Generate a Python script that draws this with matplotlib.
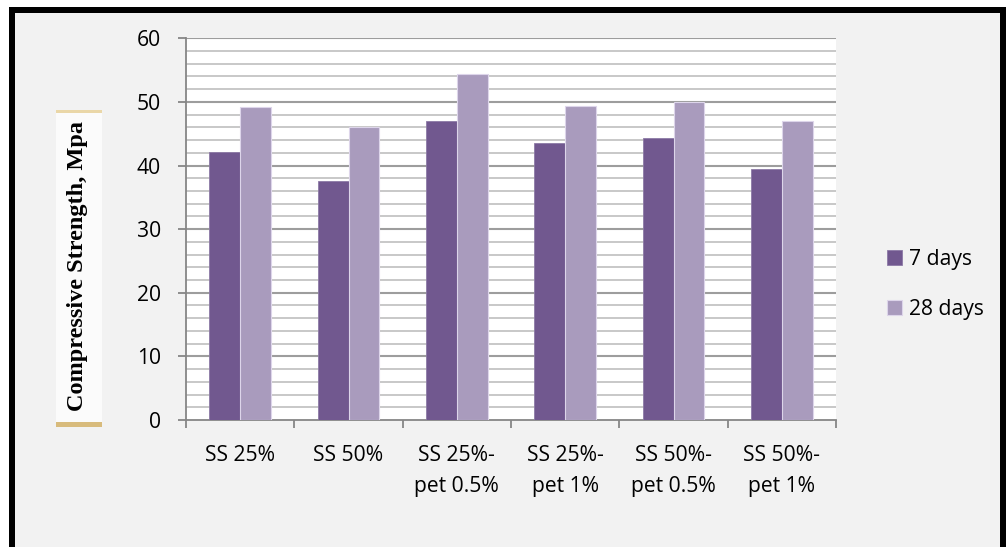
import matplotlib
matplotlib.use("Agg")
import matplotlib.pyplot as plt
from matplotlib.patches import Rectangle
import numpy as np

# Compressive strength results (MPa)
categories = ["SS 25%", "SS 50%", "SS 25%-\npet 0.5%", "SS 25%-\npet 1%",
              "SS 50%-\npet 0.5%", "SS 50%-\npet 1%"]
days_7 = [42.2, 37.6, 47.0, 43.5, 44.4, 39.5]
days_28 = [49.2, 46.1, 54.4, 49.4, 50.0, 47.0]
series_names = ["7 days", "28 days"]
y_ticks = [0, 10, 20, 30, 40, 50, 60]

W, H = 1008, 547
fig = plt.figure(figsize=(W / 100, H / 100), dpi=100)
fig.patch.set_facecolor("#f2f2f2")

BODY_FONT = ["Open Sans", "DejaVu Sans"]
FS = 15.2

ax = fig.add_axes([186 / W, 1 - 420 / H, (836 - 186) / W, (420 - 38.3) / H])
ax.set_facecolor("white")

x = np.arange(len(categories))
bw = 1 / 3.5
c7, c28 = "#71588f", "#a99bbd"
b1 = ax.bar(x - bw / 2, days_7, bw, color=c7, edgecolor="#8d7aa6", linewidth=0.6, zorder=3)
b2 = ax.bar(x + bw / 2, days_28, bw, color=c28, edgecolor="#ddd5ea", linewidth=0.8, zorder=3)

ax.set_xlim(-0.5, len(categories) - 0.5)
ax.set_ylim(0, 60)

# horizontal gridlines: minor every 2, major every 10
for v in np.arange(2, 61, 2):
    major = (v % 10 == 0)
    ax.axhline(v, color="#9d9d9d" if major else "#c4c4c4",
               lw=1.5 if major else 1.3, zorder=1)

for s in ["top", "right"]:
    ax.spines[s].set_visible(False)
for s in ["left", "bottom"]:
    ax.spines[s].set_color("#868686")
    ax.spines[s].set_linewidth(1.3)

ax.set_yticks(y_ticks)
ax.set_yticklabels([str(t) for t in y_ticks], fontfamily=BODY_FONT, fontsize=FS)
ax.tick_params(axis="y", length=6, width=1.3, color="#868686", pad=12)

ax.set_xticks(np.arange(len(categories) + 1) - 0.5, minor=False)
ax.set_xticklabels([])
ax.tick_params(axis="x", length=6, width=1.3, color="#868686")
ax.set_xticks(x, minor=True)
ax.set_xticklabels(categories, minor=True, fontfamily=BODY_FONT, fontsize=FS,
                   linespacing=1.6)
ax.tick_params(axis="x", which="minor", length=0, pad=18)

# legend
leg = fig.legend([b1, b2], series_names, loc="upper left",
                 bbox_to_anchor=(868 / W, 1 - 230 / H), frameon=False,
                 prop={"family": BODY_FONT, "size": FS},
                 handlelength=0.7, handleheight=0.7, handletextpad=0.35,
                 labelspacing=1.35)

# y-axis title box
fig.patches.append(Rectangle((56 / W, 1 - 427 / H), 46 / W, 317 / H,
                             transform=fig.transFigure, facecolor="#fbfbfb",
                             edgecolor="none", zorder=0))
fig.patches.append(Rectangle((56 / W, 1 - 113 / H), 46 / W, 3 / H,
                             transform=fig.transFigure, facecolor="#ead7a8",
                             edgecolor="none", zorder=1))
fig.patches.append(Rectangle((56 / W, 1 - 427 / H), 46 / W, 5 / H,
                             transform=fig.transFigure, facecolor="#d8bb7c",
                             edgecolor="none", zorder=1))
fig.text(78 / W, 1 - 266 / H, "Compressive Strength, Mpa", rotation=90,
         ha="center", va="center", fontsize=17.5, fontweight="bold",
         fontfamily=["Liberation Serif", "DejaVu Serif"], color="black")

# outer frame
fig.patches.append(Rectangle((0, 1 - 7 / H), 1, 7 / H, transform=fig.transFigure,
                             facecolor="white", edgecolor="none", zorder=1))
fig.patches.append(Rectangle((0, 0), 9 / W, 1, transform=fig.transFigure,
                             facecolor="white", edgecolor="none", zorder=1))
fig.patches.append(Rectangle((9 / W, 1 - 13 / H), 997 / W, 6 / H, transform=fig.transFigure,
                             facecolor="black", edgecolor="none", zorder=2))
fig.patches.append(Rectangle((9 / W, 0), 6 / W, 1 - 7 / H, transform=fig.transFigure,
                             facecolor="black", edgecolor="none", zorder=2))
fig.patches.append(Rectangle((1000 / W, 0), 6 / W, 1 - 7 / H, transform=fig.transFigure,
                             facecolor="black", edgecolor="none", zorder=2))
fig.patches.append(Rectangle((1006 / W, 0), 2 / W, 1, transform=fig.transFigure,
                             facecolor="white", edgecolor="none", zorder=1))

fig.savefig("out.png", dpi=100, facecolor=fig.get_facecolor())
